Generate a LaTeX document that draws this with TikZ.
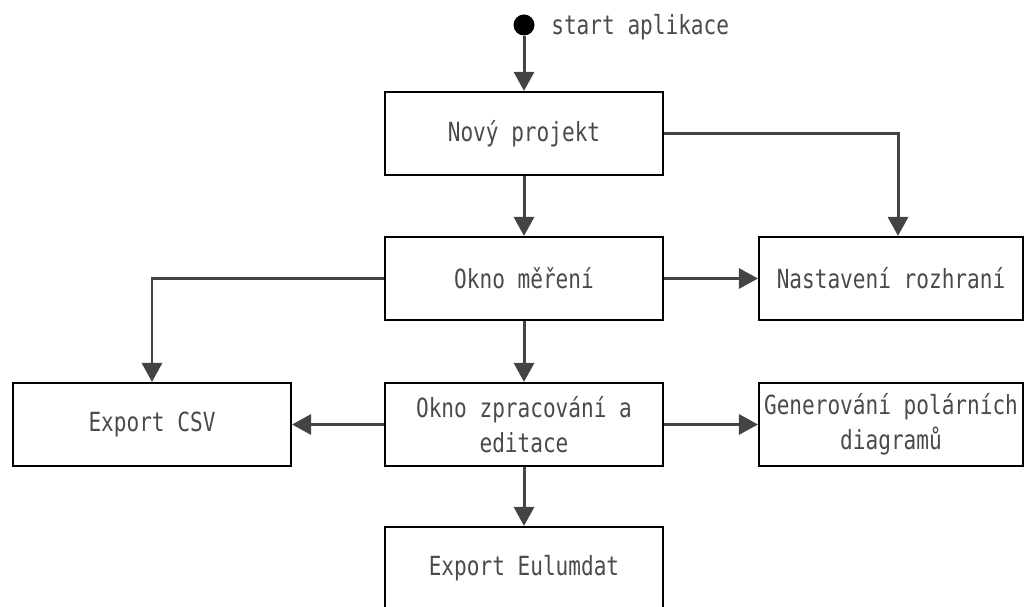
\documentclass[tikz,border=0pt]{standalone}
\usepackage{fontspec}
\usepackage{tikz}
\usetikzlibrary{arrows.meta}
\newfontfamily\diafont{DejaVu Sans Mono}[FakeStretch=0.8]
\definecolor{linegray}{HTML}{444444}
\definecolor{textgray}{HTML}{4A4A4A}
\tikzset{
  box/.style={draw=black, line width=1.2pt, rectangle, minimum width=5.56cm,
              minimum height=1.66cm, inner sep=0pt, align=center,
              text=textgray, font=\diafont\fontsize{15}{20}\selectfont},
  narrowbox/.style={box, minimum width=5.28cm},
  arr/.style={draw=linegray, line width=1.7pt,
              -{Triangle[length=0.38cm,width=0.4cm]}},
}

\begin{document}
\begin{tikzpicture}[x=0.02cm, y=-0.02cm]
     \useasboundingbox (0,0) rectangle (1024,607);
     \node[circle, fill=black, minimum size=0.42cm, inner sep=0pt] (start) at (524,25) {};
     \node[anchor=west, inner sep=0pt, text=textgray,
           font=\diafont\fontsize{15}{20}\selectfont] (lstart) at (551,27) {start aplikace};
     \node[box]       (novy)  at (524,133.5) {Nový projekt};
     \node[box]       (okno)  at (524,278.5) {Okno měření};
     \node[narrowbox] (nast)  at (891,278.5) {Nastavení rozhraní};
     \node[box]       (csv)   at (152,424.5) {Export CSV};
     \node[box]       (zprac) at (524,424.5) {Okno zpracování a\\editace};
     \node[narrowbox] (gen)   at (891,424.5) {Generování polárních\\diagramů};
     \node[box]       (eul)   at (524,568.5) {Export Eulumdat};
     \draw[arr] (start) -- (novy);
     \draw[arr] (novy.east) -| ([xshift=0.14cm]nast.north);
     \draw[arr] (novy) -- (okno);
     \draw[arr] (okno) -- (nast);
     \draw[arr] (okno.west) -| (csv.north);
     \draw[arr] (okno) -- (zprac);
     \draw[arr] (zprac) -- (csv);
     \draw[arr] (zprac) -- (gen);
     \draw[arr] (zprac) -- (eul);
\end{tikzpicture}
\end{document}
